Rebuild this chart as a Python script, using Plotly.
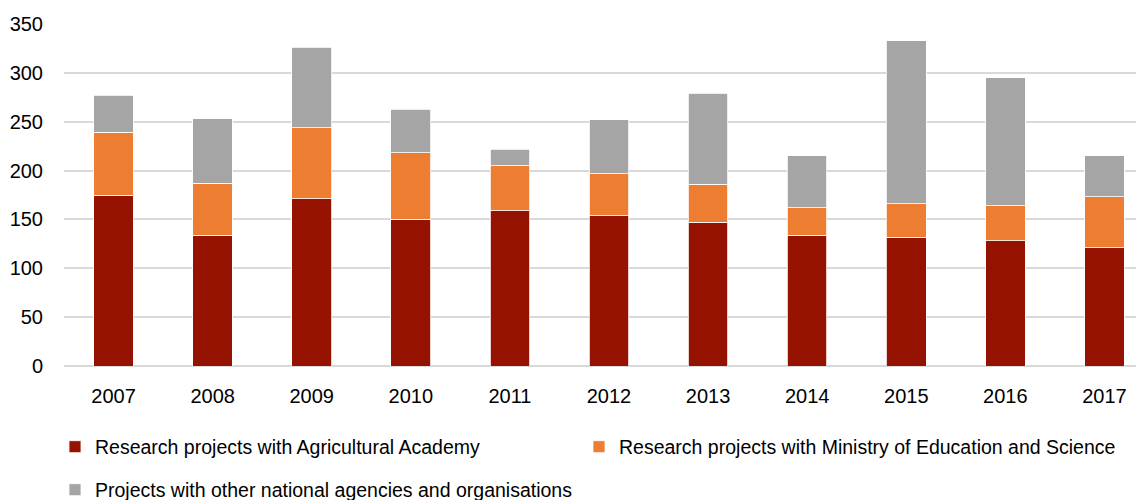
import plotly.graph_objects as go

years = ["2007", "2008", "2009", "2010", "2011", "2012", "2013", "2014", "2015", "2016", "2017"]
academy = [175, 134, 171, 150, 159, 154, 147, 134, 132, 128, 121]
ministry = [64, 53, 73, 68, 46, 43, 39, 28, 34, 36, 52]
other = [38, 66, 82, 45, 17, 55, 93, 53, 167, 131, 42]

FONT = "Liberation Sans, Arial, sans-serif"

fig = go.Figure()
fig.add_trace(go.Bar(name="Research projects with Agricultural Academy", x=years, y=academy,
                     legend="legend", showlegend=True,
                     marker=dict(color="#961200", line=dict(color="white", width=0.8))))
fig.add_trace(go.Bar(name="Research projects with Ministry of Education and Science", x=years, y=ministry,
                     legend="legend2", showlegend=True,
                     marker=dict(color="#ED7D31", line=dict(color="white", width=0.8))))
fig.add_trace(go.Bar(name="Projects with other national agencies and organisations", x=years, y=other,
                     legend="legend3", showlegend=True,
                     marker=dict(color="#A5A5A5", line=dict(color="white", width=0.8))))

def legend_at(x, y):
    return dict(orientation="h", x=x / 1144, xanchor="left", xref="container",
                y=1 - y / 500, yref="container", yanchor="middle", font=dict(size=19.5))

# the page puts the figure 8px in from the top-left corner
fig.update_layout(
    width=1144, height=500,
    margin=dict(l=56, r=0, t=16, b=142, autoexpand=False),
    barmode="stack", bargap=0.6, showlegend=True,
    plot_bgcolor="white", paper_bgcolor="white",
    font=dict(family=FONT, size=20, color="#000000"),
    legend=legend_at(47, 439),
    legend2=legend_at(571, 439),
    legend3=legend_at(47, 482),
)
fig.update_xaxes(range=[-0.5, 10.48], showgrid=False, showline=False, ticks="", automargin=False,
                 ticklabelstandoff=16, tickfont=dict(size=20))
fig.update_yaxes(range=[0, 350], dtick=50, showgrid=True, gridcolor="#D9D9D9", gridwidth=1.5,
                 zeroline=True, zerolinecolor="#D9D9D9", zerolinewidth=1.5, showline=False, automargin=False,
                 ticks="", ticklabelstandoff=20, tickfont=dict(size=20))

fig.write_html("out.html")
